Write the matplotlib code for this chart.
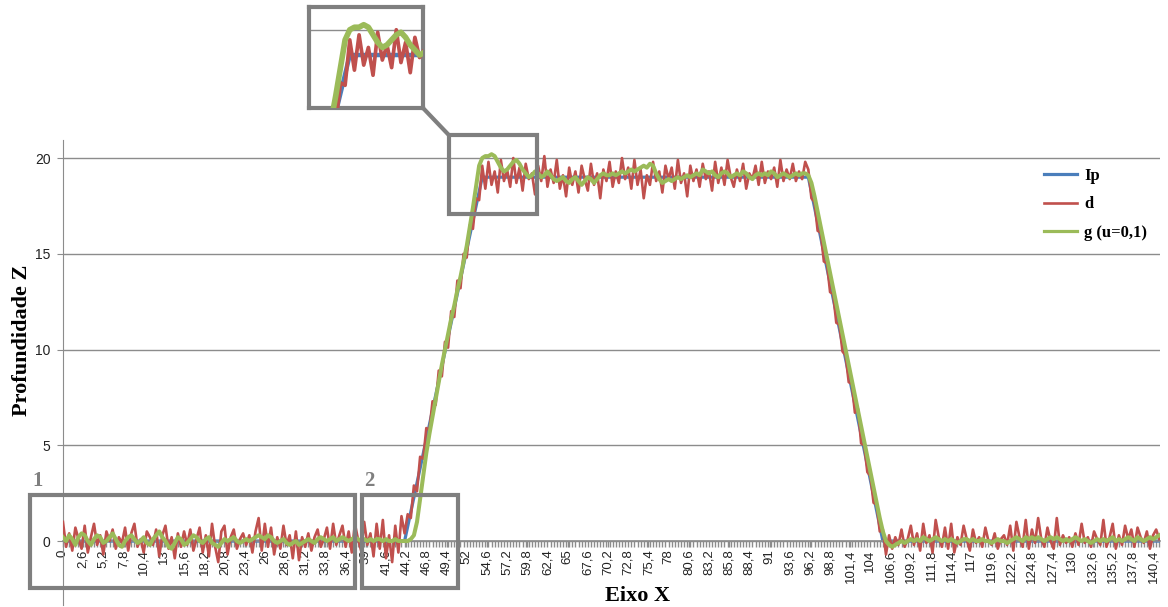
import numpy as np
import matplotlib
matplotlib.use('Agg')
import matplotlib.pyplot as plt
from matplotlib.patches import Rectangle, ConnectionPatch
from matplotlib.lines import Line2D

# sample spacing along Eixo X
step = 0.4

# Ip: ideal profile (breakpoints)
ip_x = [0, 44.0, 54.0, 96.0, 105.6, 141.2]
ip_y = [0, 0, 19, 19, 0, 0]

# d: noisy profile, read segment by segment
d_left = [1.0, -0.3, 0.4, -0.5, 0.7, 0.1, -0.4, 0.8, -0.6, 0.2,
          0.9, -0.2, 0.3, -0.7, 0.5, 0.0, 0.6, -0.4, 0.2, -0.1,
          0.7, -0.5, 0.4, 0.9, -0.3, 0.1, -0.6, 0.5, 0.2, -0.2,
          0.6, -0.8, 0.3, 0.8, -0.4, 0.2, -0.9, 0.4, -0.3, 0.5,
          -0.2, 0.6, -0.5, 0.1, 0.7, -0.6, 0.3, -0.8, 0.9, -0.3,
          -1.1, 0.5, 0.8, -0.7, 0.2, 0.6, -0.4, 0.1, 0.4, -0.2,
          0.3, -0.6, 0.5, 1.2, -0.5, 0.9, -0.3, 0.7, -0.7, 0.2,
          -0.4, 0.8, -0.2, 0.3, -0.9, 0.5, -1.0, 0.2, -0.3, 0.4,
          -0.5, 0.2, 0.6, -0.3, 0.1, 0.7, -0.4, 0.9, -0.2, 0.3,
          0.8, -0.3, 0.5, -0.6, 0.9, 0.1, -0.5, 1.0, -0.2, 0.4,
          -0.8, 0.9, -0.4, 1.1, -0.9, 0.3, -1.1, 0.8, -0.6, 1.3]
d_rise = [0.4, 1.4, 1.2, 2.9, 2.6, 4.4, 4.3, 5.9, 5.8, 7.3, 7.1, 8.9, 8.6,
          10.4, 10.1, 12.0, 11.7, 13.6, 13.2, 15.0, 14.8, 16.5, 16.3, 17.9, 17.8, 19.6]
d_top = [18.4, 19.8, 18.6, 19.3, 18.2, 19.9, 18.8, 19.4, 18.5, 20.0,
         18.7, 19.5, 18.3, 19.7, 18.9, 19.2, 18.1, 19.6, 18.8, 20.1,
         18.5, 19.4, 18.7, 19.9, 18.4, 19.1, 18.0, 19.5, 18.6, 19.3,
         18.2, 19.6, 18.9, 18.3, 19.7, 18.6, 19.2, 17.9, 19.4, 18.8,
         19.8, 18.5, 19.3, 18.7, 20.0, 18.9, 19.5, 18.4, 19.9, 18.6,
         19.4, 17.9, 19.1, 18.6, 19.8, 18.8, 19.3, 18.2, 19.6, 18.9,
         19.5, 18.4, 19.9, 18.7, 19.2, 18.0, 19.6, 18.8, 19.4, 18.5,
         19.7, 18.9, 19.3, 18.3, 19.8, 18.7, 19.5, 18.6, 19.9, 19.0,
         18.5, 19.4, 18.8, 19.7, 18.4, 19.2, 18.9, 19.6, 18.6, 19.8,
         18.7, 19.3, 18.9, 19.5, 18.5, 19.9, 18.8, 19.4, 18.9, 19.7,
         18.8, 19.3, 18.9, 19.8]
d_fall = [19.4, 17.9, 17.7, 16.2, 16.1, 14.6, 14.5, 13.0, 12.9, 11.4, 11.3, 9.9, 9.7,
          8.3, 8.2, 6.7, 6.9, 5.1, 5.0, 3.6, 3.4, 2.0, 1.9, 0.5, 0.6]
d_right = [-0.7, 0.3, -0.4, 0.2, -0.2, 0.6, -0.3, 0.1, 0.8, -0.2,
           0.4, -0.5, 0.9, -0.1, 0.3, -0.6, 1.1, 0.2, -0.3, 0.7,
           -0.4, 0.9, -0.6, 0.2, -0.2, 0.8, 0.1, -0.5, 0.6, -0.1,
           0.2, -0.3, 0.7, 0.0, -0.2, 0.4, -0.4, 0.1, 0.3, -0.2,
           0.8, -0.5, 1.0, 0.2, -0.3, 1.1, -0.4, 0.6, -0.1, 1.2,
           0.1, -0.3, 0.7, 0.0, -0.4, 1.2, -0.2, 0.3, -0.1, 0.2,
           -0.3, 0.4, -0.2, 0.9, -0.1, 0.2, -0.3, 0.5, 0.1, -0.2,
           1.1, -0.3, 0.2, 0.9, -0.4, 0.3, -0.2, 0.8, 0.1, 0.6,
           -0.3, 0.7, 0.2, -0.1, 0.5, -0.4, 0.3, 0.6, 0.1]

# g (u=0,1): filtered profile
g_left = [0.2, 0.0, 0.3, 0.1, -0.2, 0.2, 0.4, 0.3, 0.0, -0.2,
          0.1, 0.3, 0.2, -0.1, 0.0, 0.2, 0.4, 0.1, -0.2, -0.3,
          0.0, 0.2, 0.3, 0.1, -0.1, 0.0, 0.2, -0.1, -0.2, 0.1,
          0.3, 0.5, 0.2, 0.0, -0.3, -0.4, -0.1, 0.2, 0.1, -0.2,
          -0.1, 0.1, 0.3, 0.2, 0.0, -0.1, 0.1, 0.2, -0.1, -0.2,
          -0.3, -0.1, 0.1, 0.0, 0.1, 0.2, 0.0, -0.1, 0.0, 0.1,
          0.0, 0.1, 0.2, 0.3, 0.2, 0.1, 0.3, 0.2, 0.0, -0.1,
          0.0, 0.1, -0.1, -0.2, -0.1, 0.0, -0.2, -0.1, 0.0, 0.1,
          0.0, -0.1, 0.1, 0.2, 0.1, 0.0, 0.1, 0.2, 0.0, 0.1,
          0.2, 0.1, 0.0, 0.1, 0.2, 0.1, 0.0, 0.1, 0.0, 0.1,
          0.0, 0.1, 0.1, 0.0, 0.1, 0.0, 0.0, 0.1, 0.0, 0.0]
g_rise = [0.0, 0.0, 0.1, 0.3, 1.0, 2.2, 3.4, 4.6, 5.6, 6.5, 7.4, 8.3, 9.2,
          10.0, 10.8, 11.6, 12.3, 13.1, 13.8, 14.6, 15.4, 16.4, 17.4, 18.5, 19.6, 20.0]
g_top = [20.1, 20.1, 20.2, 20.1, 19.8, 19.5, 19.3, 19.4, 19.6, 19.8,
         19.9, 19.7, 19.4, 19.2, 19.0, 19.1, 19.3, 19.2, 19.0, 19.1,
         19.3, 19.1, 18.9, 18.8, 18.9, 19.0, 18.8, 18.7, 18.9, 19.0,
         18.8, 18.6, 18.8, 19.0, 18.9, 18.7, 18.9, 19.1, 19.2, 19.1,
         19.1, 19.2, 19.1, 19.2, 19.3, 19.2, 19.3, 19.4, 19.3, 19.4,
         19.5, 19.6, 19.5, 19.7, 19.6, 19.2, 18.9, 18.7, 18.8, 18.9,
         18.8, 18.9, 19.0, 18.9, 19.0, 19.1, 19.0, 19.1, 19.2, 19.1,
         19.4, 19.3, 19.2, 19.3, 19.1, 19.0, 19.2, 19.3, 19.2, 19.0,
         19.1, 19.2, 19.1, 19.3, 19.2, 19.0, 18.9, 19.1, 19.2, 19.1,
         19.2, 19.1, 19.3, 19.2, 19.0, 19.1, 19.2, 19.1, 19.0, 19.1,
         19.2, 19.1, 19.2, 19.2]
g_fall = [19.1, 18.7, 18.0, 17.2, 16.4, 15.6, 14.8, 14.0, 13.2, 12.4, 11.6, 10.8, 10.0,
          9.2, 8.4, 7.6, 6.8, 6.0, 5.2, 4.4, 3.6, 2.8, 2.0, 1.2, 0.5]
g_right = [0.0, -0.2, -0.3, -0.2, -0.1, 0.0, -0.1, 0.0, 0.1, 0.0,
           0.1, 0.0, 0.2, 0.1, 0.0, 0.1, 0.2, 0.1, 0.0, 0.1,
           0.0, 0.1, 0.0, -0.1, 0.0, 0.1, 0.1, 0.0, 0.1, 0.0,
           0.0, 0.1, 0.0, 0.0, -0.1, 0.0, 0.1, 0.0, 0.0, -0.1,
           0.0, 0.1, 0.2, 0.1, 0.0, 0.2, 0.1, 0.2, 0.1, 0.2,
           0.1, 0.0, 0.1, 0.2, 0.1, 0.2, 0.1, 0.0, 0.1, 0.0,
           0.1, 0.2, 0.1, 0.0, 0.1, 0.0, -0.1, 0.0, 0.1, 0.0,
           0.1, 0.0, 0.1, 0.2, 0.0, 0.1, 0.0, 0.1, 0.2, 0.1,
           0.0, 0.2, 0.1, 0.0, 0.1, 0.2, 0.1, 0.2, 0.3]

d = d_left + d_rise + d_top + d_fall + d_right
g = g_left + g_rise + g_top + g_fall + g_right
x = np.round(np.arange(len(d)) * step, 1)

# category labels every 13 samples of 0.2
label_pos = [round(2.6 * k, 1) for k in range(55)]
label_txt = [('%.1f' % v).rstrip('0').rstrip('.').replace('.', ',') for v in label_pos]
y_ticks = [0, 5, 10, 15, 20]

BLUE, RED, GREEN, GRAY = '#4A7EBB', '#C0504D', '#9BBB59', '#7F7F7F'
GRID = '#8C8C8C'
serif = 'Liberation Serif'


def draw_series(a, lw_scale=1.0):
    a.plot(ip_x, ip_y, color=BLUE, lw=2.3 * lw_scale, zorder=2, solid_joinstyle='round')
    a.plot(x, d, color=RED, lw=1.9 * lw_scale, zorder=3, solid_joinstyle='round')
    a.plot(x, g, color=GREEN, lw=2.9 * lw_scale, zorder=4, solid_joinstyle='round')


fig = plt.figure(figsize=(11.68, 6.07), dpi=100)
ax = fig.add_axes([0.0539, 0.0033, 0.9393, 0.766])
draw_series(ax)

ax.set_xlim(0, 141.3)
ax.set_ylim(-3.34, 20.94)
ax.spines['top'].set_visible(False)
ax.spines['right'].set_visible(False)
ax.spines['left'].set_color(GRID)
ax.spines['bottom'].set_position(('data', 0))
ax.spines['bottom'].set_color(GRID)
ax.spines['bottom'].set_linewidth(1.2)

ax.set_yticks(y_ticks)
ax.yaxis.grid(True, color=GRID, lw=1)
ax.set_axisbelow(True)
ax.tick_params(axis='y', length=4, color=GRID, labelsize=10, pad=5, labelcolor='#222222')
for t in ax.get_yticklabels():
    t.set_family('Liberation Sans')

ax.set_xticks(label_pos)
ax.set_xticklabels(label_txt, rotation=90, fontsize=9.5, family='Liberation Sans', color='#222222')
ax.set_xticks(x, minor=True)
ax.tick_params(axis='x', which='both', length=4, width=1, color=GRID, direction='out', pad=2)

# annotation boxes (data coordinates)
boxes = [(-4.25, -2.45, 41.85, 4.85), (38.5, -2.45, 12.4, 4.85)]
for bx, by, bw, bh in boxes:
    ax.add_patch(Rectangle((bx, by), bw, bh, fill=False, ec=GRAY, lw=3, clip_on=False, zorder=6))
ax.text(-4.0, 2.6, '1', color=GRAY, fontsize=15, weight='bold', family=serif, va='bottom')
ax.text(38.8, 2.6, '2', color=GRAY, fontsize=15, weight='bold', family=serif, va='bottom')

zx0, zy0, zx1, zy1 = 49.7, 17.1, 61.1, 21.2
ax.add_patch(Rectangle((zx0, zy0), zx1 - zx0, zy1 - zy0, fill=False, ec=GRAY, lw=3,
                       clip_on=False, zorder=6))

# zoomed inset
ins = fig.add_axes([0.2646, 0.822, 0.0976, 0.1664])
draw_series(ins, lw_scale=1.4)
ins.set_xlim(50.5, 60.3)
ins.set_ylim(16.9, 20.9)
ins.axhline(20, color=GRID, lw=1, zorder=1)
ins.set_xticks([])
ins.set_yticks([])
for s in ins.spines.values():
    s.set_color(GRAY)
    s.set_linewidth(3)

con = ConnectionPatch(xyA=(1, 0), coordsA=ins.transAxes, xyB=(zx0, zy1), coordsB=ax.transData,
                      color=GRAY, lw=3)
fig.add_artist(con)

# legend
handles = [Line2D([], [], color=BLUE, lw=2.3), Line2D([], [], color=RED, lw=1.9),
           Line2D([], [], color=GREEN, lw=2.3)]
ax.legend(handles, ['Ip', 'd', 'g (u=0,1)'], loc='upper left',
          bbox_to_anchor=(1029 / 1168, 1 - 153 / 607), bbox_transform=fig.transFigure,
          frameon=False, prop=dict(family=serif, weight='bold', size=12),
          handlelength=2.0, labelspacing=0.75, handletextpad=0.4)

fig.text(0.546, 0.018, 'Eixo X', ha='center', va='center', fontsize=16, weight='bold', family=serif)
fig.text(0.019, 0.44, 'Profundidade Z', ha='center', va='center', rotation=90, fontsize=16,
         weight='bold', family=serif)

fig.savefig('out.png', dpi=100)
